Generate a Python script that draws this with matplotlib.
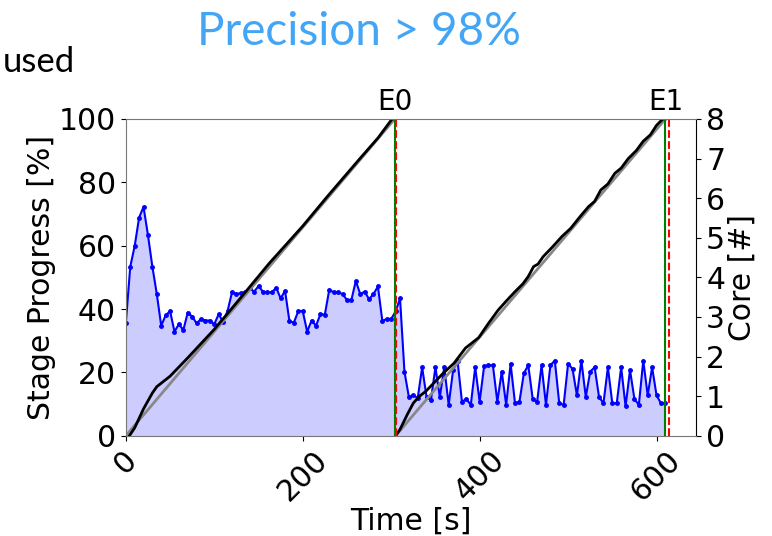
import numpy as np
import matplotlib.pyplot as plt

# core usage, sampled every 5 s (cores)
core_step = 5
cores = [
    2.85, 4.27, 4.79, 5.51, 5.78, 5.07, 4.27, 3.58, 2.78, 3.04,
    3.15, 2.63, 2.82, 2.67, 3.11, 3.01, 2.84, 2.95, 2.91, 2.91,
    2.82, 3.07, 2.87, 3.15, 3.62, 3.58, 3.60, 3.62, 3.73, 3.64,
    3.78, 3.64, 3.62, 3.62, 3.74, 3.47, 3.66, 2.89, 2.86, 3.15,
    3.15, 2.63, 2.91, 2.78, 3.07, 3.06, 3.69, 3.62, 3.62, 3.58,
    3.43, 3.43, 3.91, 3.58, 3.64, 3.45, 3.58, 3.77, 2.90, 2.95,
    2.95, 3.14, 3.47, 1.62, 0.98, 1.03, 0.95, 1.73, 0.98, 0.91,
    1.73, 0.98, 1.73, 0.78, 1.66, 1.90, 0.86, 0.93, 0.78, 1.73,
    0.86, 1.75, 1.78, 1.78, 0.86, 1.62, 0.78, 1.82, 0.82, 0.86,
    1.58, 1.78, 0.93, 0.86, 1.78, 0.78, 1.78, 1.90, 0.82, 0.78,
    1.82, 1.69, 1.02, 1.90, 0.98, 1.62, 1.73, 0.98, 0.82, 1.73,
    0.82, 0.82, 1.73, 0.74, 1.66, 0.93, 0.78, 1.90, 1.02, 1.73,
    1.02, 0.82, 0.82,
]
core_time = np.arange(len(cores)) * core_step

# measured stage progress (%)
s0_time = [4, 10, 20, 30, 35, 50, 70, 100, 130, 162, 200, 228, 264, 285, 301, 304]
s0_prog = [0, 2.5, 8.5, 13.5, 15.5, 18.8, 24.6, 33.6, 43.6, 54.4, 66.2, 75.6, 87.3, 94, 100, 100]
s1_time = [305, 310, 318, 325, 332, 339, 348, 359, 371, 384, 399, 410, 421, 430, 440,
           449, 455, 461, 466, 472, 482, 493, 503, 513, 523, 530, 537, 545, 553,
           560, 568, 577, 585, 593, 600, 607, 610]
s1_prog = [0, 2, 6.6, 10.3, 12.5, 14, 16.6, 19.8, 22.9, 27.7, 31, 35.5, 39.7, 42.5, 45.5,
           48, 50.3, 53.4, 54.2, 56.6, 59.5, 62.9, 65.5, 69, 72.3, 74, 77.6, 79.5, 82.9,
           84.5, 87.5, 90, 93, 95, 98, 100, 100]

# ideal progress
ideal_s0 = ([0, 304], [0, 100])
ideal_s1 = ([305, 610], [0, 100])

# stage end markers
stage_labels = ["E0", "E1"]
stage_end = [304, 610]
stage_end_est = [306, 614]

fig = plt.figure(figsize=(7.72, 5.36), dpi=100)
ax = fig.add_axes([0.163, 0.187, 0.739, 0.591])
ax2 = ax.twinx()

ax2.fill_between(core_time, cores, 0, color="blue", alpha=0.2, linewidth=0)
ax2.plot(core_time, cores, color="blue", marker=".", markersize=5, linewidth=1.5)
ax2.set_ylim(0, 8)

ax.plot(*ideal_s0, color="#888888", linewidth=2)
ax.plot(*ideal_s1, color="#888888", linewidth=2)
ax.plot(s0_time, s0_prog, color="black", linewidth=2)
ax.plot(s1_time, s1_prog, color="black", linewidth=2)

for lab, x0, x1 in zip(stage_labels, stage_end, stage_end_est):
    ax.axvline(x0, color="green", linewidth=1.5)
    ax.axvline(x1, color="red", linestyle="--", linewidth=1.5)
    ax.text(x0, 101, lab, ha="center", va="bottom", fontsize=20)

ax.set_zorder(ax2.get_zorder() + 1)
ax.patch.set_visible(False)

ax.set_xlim(0, 645)
ax.set_ylim(0, 100)
ax.set_xticks([0, 200, 400, 600])
ax.tick_params(axis="x", labelrotation=45, labelsize=21.5)
ax.tick_params(axis="y", labelsize=21.5)
ax2.tick_params(axis="y", labelsize=21.5)
ax2.set_yticks(range(9))

for side in ["top", "left", "bottom"]:
    ax.spines[side].set_color("#777777")
ax.spines["right"].set_visible(False)
for side in ["top", "left", "bottom"]:
    ax2.spines[side].set_visible(False)

ax.set_xlabel("Time [s]", fontsize=21.5, labelpad=0)
ax.set_ylabel("Stage Progress [%]", fontsize=21.5, labelpad=2)
ax2.set_ylabel("Core [#]", fontsize=21.5, labelpad=2)

fig.text(0.465, 0.94, "Precision > 98%", ha="center", va="center",
         fontsize=33, color="#42a5f5", family="Lato")
fig.text(0.003, 0.885, "used", ha="left", va="center", fontsize=25,
         color="black", family="Lato")

fig.savefig("out.png", dpi=100)
